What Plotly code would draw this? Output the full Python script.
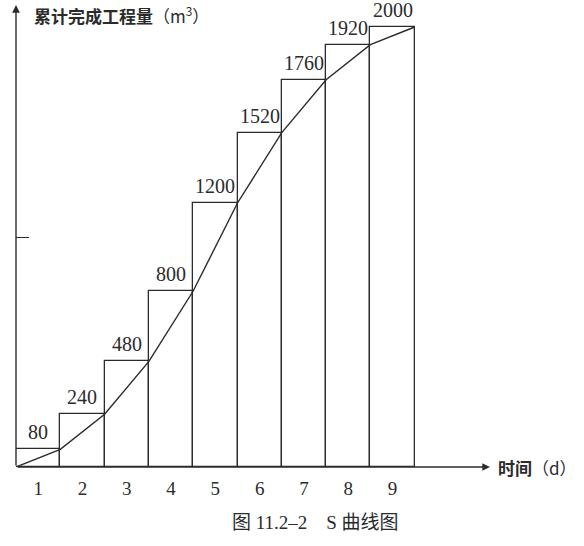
import plotly.graph_objects as go

days = ["1", "2", "3", "4", "5", "6", "7", "8", "9"]
cumulative = [80, 240, 480, 800, 1200, 1520, 1760, 1920, 2000]
y_title = "<b>累计完成工程量</b>（m<sup>3</sup>）"
x_title = "<b>时间</b>（d）"
caption = "图 11.2–2    S 曲线图"

ink = "#2b2b2b"
centers = [i + 0.5 for i in range(len(days))]
edges = list(range(len(days) + 1))
curve = [0] + cumulative

fig = go.Figure()
fig.add_trace(go.Bar(
    x=centers, y=cumulative, width=1,
    marker=dict(color="white", line=dict(color=ink, width=1.3)),
    hoverinfo="skip",
))
fig.add_trace(go.Scatter(
    x=edges, y=curve, mode="lines",
    line=dict(color=ink, width=1.4), hoverinfo="skip",
))

XMAX = 10.7
YMAX = 2100
annotations = []
for c, v in zip(centers, cumulative):
    annotations.append(dict(
        x=c, y=v, xref="x", yref="y", text=str(v), showarrow=False,
        yanchor="bottom", yshift=5, borderpad=0,
        font=dict(family="Liberation Serif", size=20, color=ink),
    ))
# axis arrows
annotations.append(dict(x=XMAX, y=0, ax=0, ay=0, xref="x", yref="y", axref="x", ayref="y",
                        showarrow=True, arrowhead=2, arrowsize=1.1, arrowwidth=1.4,
                        arrowcolor=ink, text=""))
annotations.append(dict(x=0, y=YMAX, ax=0, ay=0, xref="x", yref="y", axref="x", ayref="y",
                        showarrow=True, arrowhead=2, arrowsize=1.1, arrowwidth=1.4,
                        arrowcolor=ink, text=""))
annotations.append(dict(x=32, y=531, xref="paper", yref="paper", text=y_title,
                        showarrow=False, xanchor="left", yanchor="middle",
                        font=dict(family="Noto Sans CJK SC", size=17, color=ink)))
annotations.append(dict(x=496, y=79, xref="paper", yref="paper", text=x_title,
                        showarrow=False, xanchor="left", yanchor="middle",
                        font=dict(family="Noto Sans CJK SC", size=17, color=ink)))
annotations.append(dict(x=315, y=24, xref="paper", yref="paper", text=caption,
                        showarrow=False, xanchor="center", yanchor="middle",
                        font=dict(family="Liberation Serif, Noto Sans CJK SC", size=19, color=ink)))

# convert paper-pixel annotations to paper fractions
W, H = 584, 546
L, R, T, B = 16, 94, 5, 79
pw, ph = W - L - R, H - T - B
for a in annotations:
    if a.get("xref") == "paper" and a["x"] > 1:
        a["x"] = (a["x"] - L) / pw
        a["y"] = (a["y"] - B) / ph

fig.update_layout(
    width=W, height=H,
    margin=dict(l=L, r=R, t=T, b=B),
    paper_bgcolor="white", plot_bgcolor="white",
    showlegend=False,
    bargap=0,
    annotations=annotations,
    xaxis=dict(range=[0, XMAX], tickvals=centers, ticktext=days, ticks="",
               showgrid=False, zeroline=False, showline=False,
               tickfont=dict(family="Liberation Serif", size=19, color=ink),
               ticklabelstandoff=8, fixedrange=True),
    yaxis=dict(range=[0, YMAX], tickvals=[1045], ticks="inside", ticklen=13,
               tickwidth=1.4, tickcolor=ink, showticklabels=False,
               showgrid=False, zeroline=False, showline=False, fixedrange=True),
)

fig.write_html("out.html", config={"displayModeBar": False},
               post_script="document.body.style.margin='0';document.body.style.overflow='hidden';")
